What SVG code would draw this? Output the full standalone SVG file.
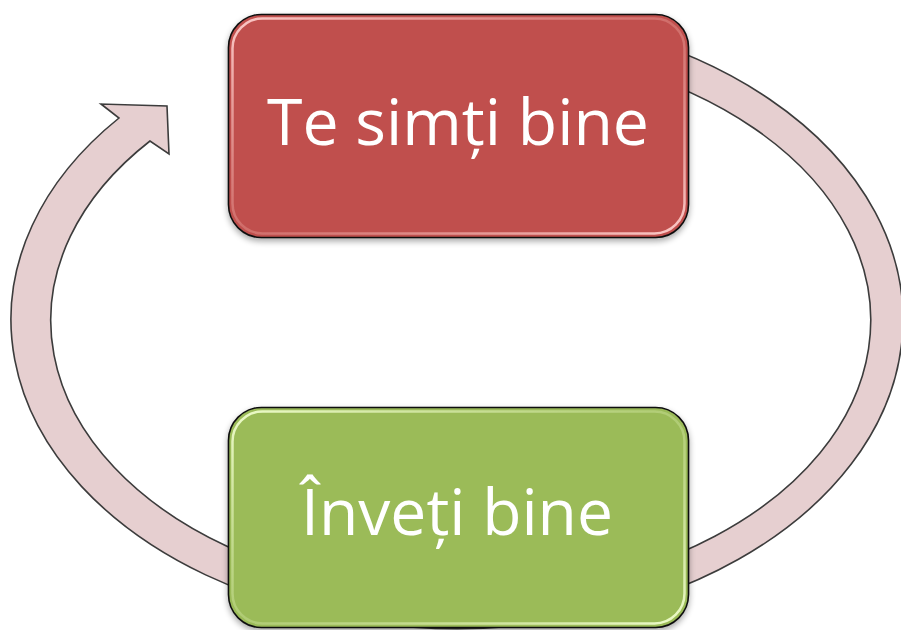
<svg xmlns="http://www.w3.org/2000/svg" width="901" height="630" viewBox="0 0 901 630">
<style>
.band{fill:#E6CFD0;stroke:#3C3C3C;stroke-width:1.6;stroke-linejoin:miter}
.box{stroke:#111;stroke-width:1.6}
.gloss{fill:none;stroke-width:2.5}
.lbl{font-family:"Open Sans","Noto Sans","Liberation Sans",sans-serif;fill:#fff;text-anchor:middle}
</style>
<defs>
<filter id="sh" x="-10%" y="-10%" width="120%" height="130%">
<feGaussianBlur in="SourceAlpha" stdDeviation="3"/>
<feOffset dx="0" dy="3" result="b"/>
<feComponentTransfer><feFuncA type="linear" slope="0.35"/></feComponentTransfer>
<feMerge><feMergeNode/><feMergeNode in="SourceGraphic"/></feMerge>
</filter>
<linearGradient id="gr" x1="0" y1="0" x2="1" y2="1">
<stop offset="0" stop-color="#FFD0CE" stop-opacity="0.95"/>
<stop offset="0.5" stop-color="#E08A87" stop-opacity="0.5"/>
<stop offset="1" stop-color="#FFD0CE" stop-opacity="0.95"/>
</linearGradient>
<linearGradient id="gg" x1="0" y1="0" x2="1" y2="1">
<stop offset="0" stop-color="#F2FFD0" stop-opacity="0.95"/>
<stop offset="0.5" stop-color="#C4DC8E" stop-opacity="0.5"/>
<stop offset="1" stop-color="#F2FFD0" stop-opacity="0.95"/>
</linearGradient>
</defs>
<rect width="901" height="630" fill="#fff"/>
<g id="connectors">
<path class="band" d="M620 32 A446 309 0 1 1 119 118 L101 104 L167 106 L169 154 L150 141 A410 275 0 1 0 620 67 Z"/>
</g>
<g id="node-top" filter="url(#sh)">
<rect class="box" x="228.5" y="14.5" width="460" height="223" rx="33" fill="#C0504D"/>
<rect class="gloss" x="232.5" y="18.5" width="452" height="215" rx="30" stroke="url(#gr)"/>
<text class="lbl" x="458" y="145" font-size="64" textLength="382" lengthAdjust="spacingAndGlyphs">Te simți bine</text>
</g>
<g id="node-bottom" filter="url(#sh)">
<rect class="box" x="228.5" y="407.5" width="460" height="220" rx="33" fill="#9BBB59"/>
<rect class="gloss" x="232.5" y="411.5" width="452" height="212" rx="30" stroke="url(#gg)"/>
<text class="lbl" x="457" y="535" font-size="64" textLength="312" lengthAdjust="spacingAndGlyphs">Înveți bine</text>
</g>
</svg>
